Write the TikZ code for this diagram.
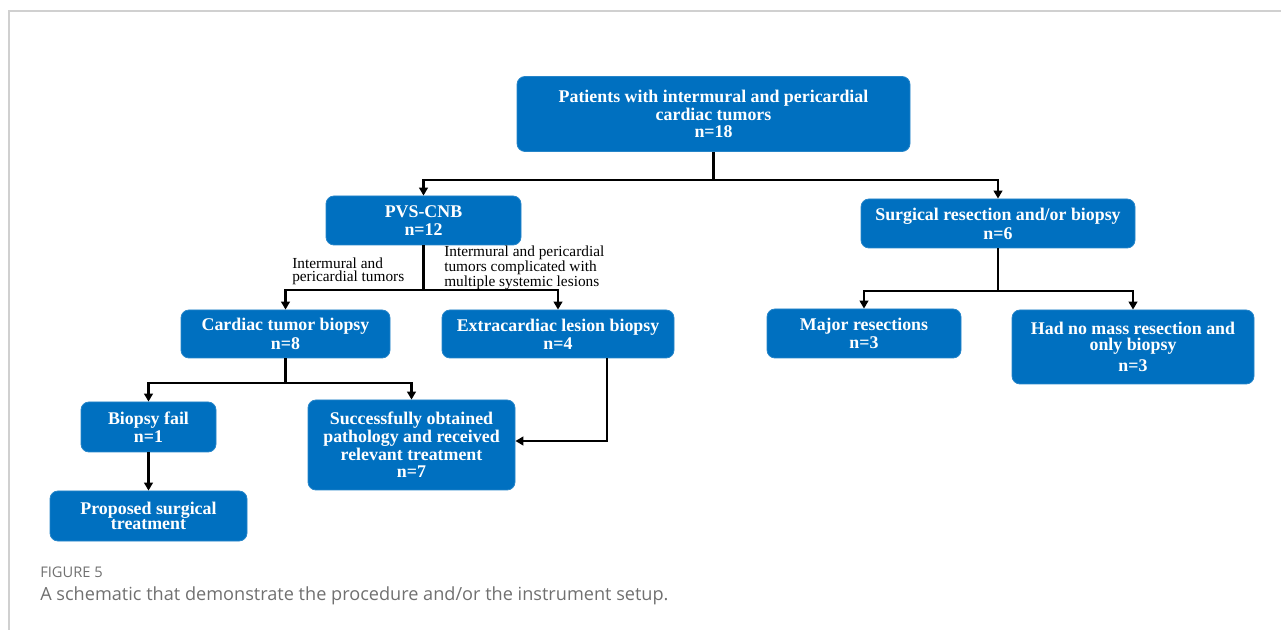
\documentclass[tikz,border=0pt]{standalone}
\usepackage{fontspec}
\setmainfont{Liberation Serif}
\newfontfamily\capfont{Open Sans}
\usetikzlibrary{arrows.meta,calc}
\definecolor{boxblue}{RGB}{0,112,192}
\definecolor{framegray}{RGB}{208,208,208}
\definecolor{capgray}{RGB}{112,112,112}
\begin{document}
\begin{tikzpicture}[x=0.75pt,y=-0.75pt,
  box/.style={rounded corners=6pt, fill=boxblue, draw=boxblue!85!white, line width=0.6pt,
    text=white, font=\bfseries\fontsize{13.4}{11.8}\selectfont, align=center, inner sep=0pt},
  ln/.style={line width=2pt, black},
  arr/.style={ln, -{Triangle[width=6.5pt,length=6pt]}},
  lbl/.style={font=\fontsize{11.5}{9.2}\selectfont, align=left, inner sep=0pt, anchor=west}]
\useasboundingbox (0,0) rectangle (1281,630);
\draw[framegray, line width=1.5pt] (9,630) -- (9,11) -- (1281,11);

\node[box, minimum width=294.75pt, minimum height=56.25pt] (top) at (713.5,114)
  {Patients with intermural and pericardial\\cardiac tumors\\[1.5pt]n=18};
\node[box, minimum width=146.25pt, minimum height=36.75pt] (pvs) at (423.5,220.5)
  {PVS-CNB\\[1.5pt]n=12};
\node[box, minimum width=205.5pt, minimum height=36.75pt] (surg) at (998,223.5)
  {Surgical resection and/or biopsy\\[1.5pt]n=6};
\node[box, minimum width=156.75pt, minimum height=36pt] (cardiac) at (285.5,334)
  {Cardiac tumor biopsy\\[1.5pt]n=8};
\node[box, minimum width=174pt, minimum height=36pt] (extra) at (558,334)
  {Extracardiac lesion biopsy\\[1.5pt]n=4};
\node[box, minimum width=145.5pt, minimum height=36.75pt] (major) at (864,333.5)
  {Major resections\\[1.5pt]n=3};
\node[box, minimum width=181.5pt, minimum height=55.5pt] (hadno) at (1133,347)
  {Had no mass resection and\\only biopsy\\[4pt]n=3};
\node[box, minimum width=101.25pt, minimum height=37.5pt] (fail) at (148.5,427)
  {Biopsy fail\\[1.5pt]n=1};
\node[box, minimum width=155.25pt, minimum height=67.5pt] (succ) at (411.5,445)
  {Successfully obtained\\pathology and received\\relevant treatment\\[1.5pt]n=7};
\node[box, minimum width=147.75pt, minimum height=37.5pt] (prop) at (148.5,516)
  {Proposed surgical\\treatment};

% top split
\coordinate (j1) at (713.5,180);
\draw[ln] (top.south) -- (j1);
\draw[arr] (j1) -| (pvs.north);
\draw[arr] (j1) -| (surg.north);
% pvs split
\coordinate (j2) at (423.5,290);
\draw[ln] (pvs.south) -- (j2);
\draw[arr] (j2) -| (cardiac.north);
\draw[arr] (j2) -| (extra.north);
% cardiac split
\coordinate (j3) at (285.5,383);
\draw[ln] (cardiac.south) -- (j3);
\draw[arr] (j3) -| (fail.north);
\draw[arr] (j3) -| (succ.north);
% extra to succ
\draw[arr] ($(extra.south)+(49,0)$) |- ($(succ.east)+(0,-4)$);
% fail to prop
\draw[arr] (fail.south) -- (prop.north);
% surg split
\coordinate (j4) at (998,291);
\draw[ln] (surg.south) -- (j4);
\draw[arr] (j4) -| (major.north);
\draw[arr] (j4) -| (hadno.north);

% branch labels
\node[lbl, font=\fontsize{11.5}{10}\selectfont] (l1) at (292,271) {Intermural and\\pericardial tumors};
\node[lbl] (l2) at (444,268) {Intermural and pericardial\\tumors complicated with\\multiple systemic lesions};

% caption
\node[anchor=west, inner sep=0pt, text=capgray, font=\capfont\fontsize{11}{12}\selectfont] (c1) at (40,572) {FIGURE 5};
\node[anchor=west, inner sep=0pt, text=capgray, font=\capfont\fontsize{13.6}{15}\selectfont] (c2) at (40,596) {A schematic that demonstrate the procedure and/or the instrument setup.};
\end{tikzpicture}
\end{document}
